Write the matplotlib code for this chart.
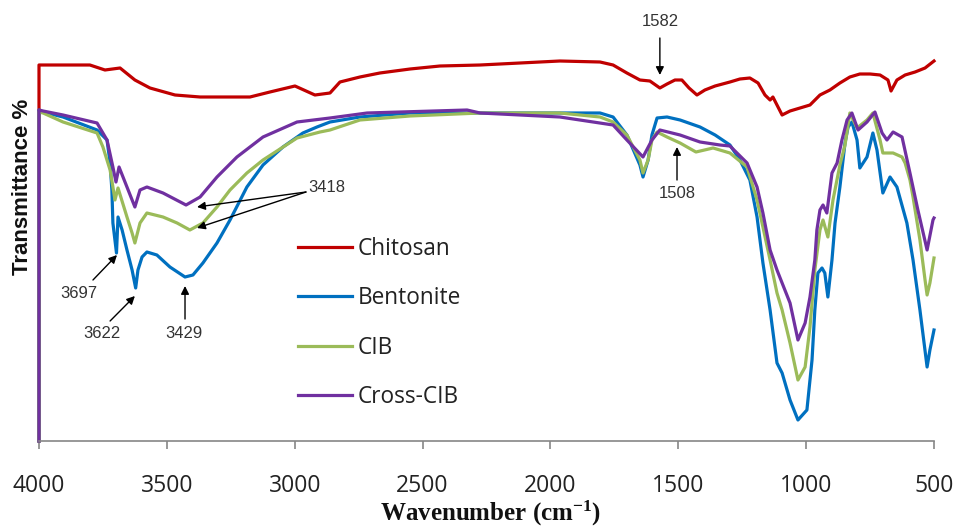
import matplotlib
matplotlib.use("Agg")
import matplotlib.pyplot as plt

# wavenumber (cm-1) / transmittance (arbitrary units)
chitosan_wn = [4000, 4000, 3801, 3742, 3683, 3625, 3566, 3468, 3370, 3175, 3097, 2999, 2921, 2862,
               2823, 2745, 2667, 2549, 2432, 2275, 2119, 1963, 1806, 1755, 1701, 1650, 1611, 1572,
               1544, 1513, 1486, 1458, 1427, 1396, 1356, 1298, 1259, 1220, 1188, 1161, 1141, 1130,
               1094, 1063, 1024, 985, 946, 907, 868, 829, 790, 750, 711, 680, 668, 645, 613, 574,
               535, 500]
chitosan_t = [0, 376, 376, 371, 373, 361, 353, 346, 344, 344, 349, 355, 346, 348,
              359, 364, 368, 372, 375, 376, 378, 380, 379, 376, 368, 361, 360, 353,
              357, 361, 361, 353, 346, 351, 355, 359, 362, 363, 358, 346, 341, 344,
              326, 330, 333, 336, 346, 351, 358, 364, 367, 367, 366, 361, 350, 361, 366, 369,
              373, 380]

bentonite_wn = [4000, 4000, 3984, 3906, 3773, 3734, 3722, 3715, 3711, 3697, 3691, 3675, 3656, 3636,
                3622, 3613, 3597, 3578, 3539, 3488, 3429, 3398, 3359, 3304, 3253, 3187, 3124, 3046,
                2968, 2913, 2862, 2745, 2549, 2275, 1806, 1755, 1701, 1650, 1638, 1618, 1603, 1583,
                1544, 1493, 1415, 1356, 1298, 1259, 1220, 1192, 1169, 1141, 1114, 1094, 1063, 1032,
                997, 977, 966, 954, 938, 927, 915, 899, 887, 868, 848, 836, 821, 801, 790, 762,
                739, 723, 700, 672, 645, 606, 582, 555, 527, 516, 500]
bentonite_t = [0, 331, 329, 324, 311, 301, 278, 251, 218, 188, 224, 211, 191, 171,
               153, 171, 184, 189, 186, 174, 164, 166, 178, 198, 221, 254, 276, 294,
               308, 314, 319, 324, 328, 328, 328, 324, 306, 276, 264, 281, 306, 323,
               324, 321, 314, 306, 296, 281, 261, 224, 178, 131, 78, 68, 41, 21,
               31, 81, 131, 168, 173, 168, 144, 181, 218, 254, 298, 314, 319, 301, 273, 284,
               308, 291, 248, 264, 254, 218, 181, 131, 74, 91, 111]

cib_wn = [4000, 4000, 3984, 3906, 3773, 3750, 3722, 3711, 3703, 3691, 3656, 3636, 3625, 3605,
          3578, 3515, 3460, 3410, 3359, 3304, 3253, 3187, 3124, 2991, 2901, 2862, 2745, 2549,
          2275, 1963, 1806, 1755, 1701, 1650, 1638, 1618, 1603, 1583, 1544, 1493, 1431, 1364,
          1298, 1231, 1192, 1141, 1114, 1094, 1063, 1032, 1004, 985, 966, 946, 934, 915, 895,
          868, 848, 829, 801, 762, 739, 711, 700, 660, 625, 613, 594, 582, 555, 535, 527, 516, 500]
cib_t = [0, 329, 328, 319, 308, 294, 271, 254, 241, 253, 224, 208, 198, 218,
         228, 224, 218, 211, 218, 234, 251, 268, 281, 303, 309, 311, 321, 325,
         328, 328, 324, 319, 306, 281, 268, 281, 301, 309, 304, 298, 289, 293,
         288, 274, 241, 181, 148, 131, 98, 61, 74, 114, 171, 211, 221, 204, 241,
         276, 296, 328, 313, 321, 328, 301, 288, 288, 284, 278, 261, 244, 201, 161, 146, 158, 183]

cross_wn = [4000, 4000, 3984, 3906, 3773, 3734, 3711, 3699, 3687, 3656, 3625, 3605, 3578, 3515,
            3425, 3370, 3304, 3226, 3124, 2991, 2862, 2717, 2326, 2275, 1963, 1755, 1701, 1638,
            1603, 1572, 1493, 1415, 1337, 1298, 1231, 1192, 1169, 1141, 1114, 1094, 1063, 1032,
            1004, 985, 966, 958, 946, 934, 919, 899, 879, 860, 840, 821, 797, 762, 731, 703,
            684, 660, 625, 594, 563, 527, 504, 500]
cross_t = [0, 331, 330, 326, 318, 301, 274, 259, 274, 254, 234, 251, 254, 248,
           236, 244, 264, 284, 304, 319, 323, 328, 331, 328, 324, 316, 301, 284,
           301, 311, 306, 299, 296, 295, 278, 254, 228, 191, 171, 158, 138, 101,
           118, 144, 181, 211, 231, 236, 228, 268, 278, 301, 321, 328, 311, 319, 329, 308,
           301, 309, 304, 268, 231, 191, 221, 223]

labels = ["Chitosan", "Bentonite", "CIB", "Cross-CIB"]
colors = ["#C00000", "#0070C0", "#9BBB59", "#7030A0"]

# peak labels: text, text position, arrow tail, arrow tips
peaks = [
    ("3418", (2874, 253), (2956, 249), [(3382, 234), (3382, 213)]),
    ("3697", (3844, 147), (3789, 161), [(3695, 186)]),
    ("3622", (3754, 107), (3722, 120), [(3625, 145)]),
    ("3429", (3433, 107), (3429, 122), [(3429, 155)]),
    ("1582", (1572, 419), (1572, 403), [(1572, 366)]),
    ("1508", (1505, 248), (1505, 261), [(1505, 294)]),
]

plt.rcParams["mathtext.fontset"] = "custom"
plt.rcParams["mathtext.rm"] = "Liberation Serif"
plt.rcParams["mathtext.bf"] = "Liberation Serif:bold"

fig = plt.figure(figsize=(9.56, 5.28), dpi=100)
ax = fig.add_axes([39 / 956, 87 / 528, 895 / 956, 391 / 528])

series = [(chitosan_wn, chitosan_t), (bentonite_wn, bentonite_t), (cib_wn, cib_t), (cross_wn, cross_t)]
for (wn, t), lab, c in zip(series, labels, colors):
    ax.plot(wn, t, color=c, lw=2.3, label=lab, clip_on=False, solid_joinstyle="round")

ax.set_xlim(4000, 500)
ax.set_ylim(0, 391)
ax.set_xticks([4000, 3500, 3000, 2500, 2000, 1500, 1000, 500])
ax.set_yticks([])
for s in ["top", "right", "left"]:
    ax.spines[s].set_visible(False)
ax.spines["bottom"].set_color("#868686")
ax.spines["bottom"].set_linewidth(1.2)
ax.tick_params(axis="x", direction="out", length=6, width=1.2, color="#868686", pad=18,
               labelsize=16.5, labelcolor="#222222")
for lbl in ax.get_xticklabels():
    lbl.set_fontfamily("Open Sans")

ax.set_xlabel(r"Wavenumber (cm$\mathbf{^{-1}}$)", family="Liberation Serif", fontweight="bold",
              fontsize=18, color="#111111")
ax.xaxis.set_label_coords(0.505, -0.148)
ax.set_ylabel("Transmittance %", family="Liberation Sans", fontweight="bold", fontsize=16,
              color="#111111")
ax.yaxis.set_label_coords(-0.007, 0.65)

leg = ax.legend(loc="upper left", bbox_to_anchor=(0.289, 0.522), frameon=False, borderpad=0,
                borderaxespad=0, handlelength=2.4, handletextpad=0.25, labelspacing=1.12,
                prop={"family": "Open Sans", "size": 16.3})
for txt in leg.get_texts():
    txt.set_color("#222222")

for text, tpos, tail, tips in peaks:
    ax.text(tpos[0], tpos[1], text, ha="center", va="center", fontsize=12,
            family=["Liberation Sans Narrow", "Liberation Sans"], color="#333333")
    for tip in tips:
        ax.annotate("", xy=tip, xytext=tail, annotation_clip=False,
                    arrowprops=dict(arrowstyle="-|>", color="black", lw=1, mutation_scale=12,
                                    shrinkA=0, shrinkB=0))

fig.savefig("out.png", dpi=100)
